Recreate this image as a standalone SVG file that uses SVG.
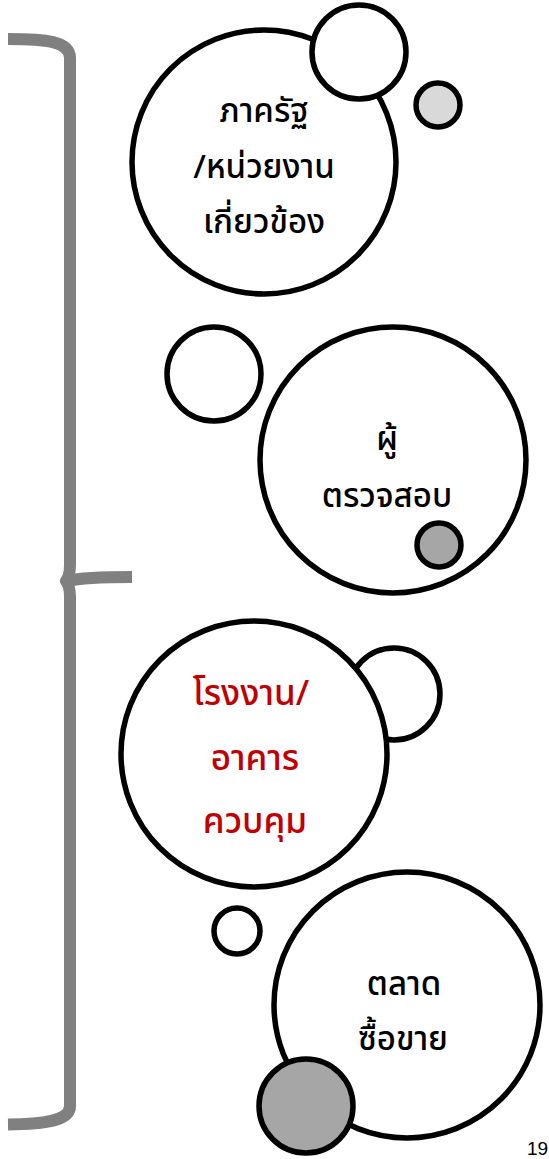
<svg xmlns="http://www.w3.org/2000/svg" width="549" height="1159" viewBox="0 0 549 1159">
<style>
.c{stroke:#000;stroke-width:5.5;fill:#fff}
.g1{fill:#d9d9d9}
.g2{fill:#a6a6a6}
.t{font-family:"Noto Sans Thai","Leelawadee UI",Tahoma,"Noto Sans","DejaVu Sans",sans-serif;font-weight:500;font-size:33px;text-anchor:middle;fill:#000}
.r{fill:#c00000;font-size:35px}
.brace{fill:none;stroke:#808080;stroke-width:12;stroke-linecap:butt;stroke-linejoin:round}
</style>
<g id="brace">
<path class="brace" d="M8,39 C45,39 70,41 70,58 L70,565 C70,575 68,578 66,581 C68,584 70,587 70,597 L70,1106 C70,1121 45,1124 8,1124.5"/>
<path class="brace" d="M67,581 C80,578 95,577 132,577"/>
</g>
<g id="node1">
<circle class="c" cx="264" cy="162" r="132"/>
<circle class="c" cx="359" cy="52" r="47"/>
<circle class="c g1" cx="438" cy="105" r="22"/>
<text class="t" x="264" y="122">ภาครัฐ</text>
<text class="t" x="264" y="178">/หน่วยงาน</text>
<text class="t" x="264" y="233">เกี่ยวข้อง</text>
</g>
<g id="node2">
<circle class="c" cx="214" cy="374" r="47"/>
<circle class="c" cx="393" cy="460" r="133"/>
<circle class="c g2" cx="439" cy="545" r="22"/>
<text class="t" x="387" y="450">ผู้</text>
<text class="t" x="387" y="507">ตรวจสอบ</text>
</g>
<g id="node3">
<circle class="c" cx="394" cy="694" r="46"/>
<circle class="c" cx="254" cy="754" r="133"/>
<text class="t r" x="251" y="705">โรงงาน/</text>
<text class="t r" x="255" y="770">อาคาร</text>
<text class="t r" x="255" y="833">ควบคุม</text>
</g>
<g id="node4">
<circle class="c" cx="237" cy="931" r="23"/>
<circle class="c" cx="407" cy="1005" r="133"/>
<circle class="c g2" cx="306" cy="1106" r="47"/>
<text class="t" x="404" y="995">ตลาด</text>
<text class="t" x="403" y="1050">ซื้อขาย</text>
</g>
<text x="527" y="1155" font-family="Liberation Sans, sans-serif" font-size="19" fill="#000">19</text>
</svg>
